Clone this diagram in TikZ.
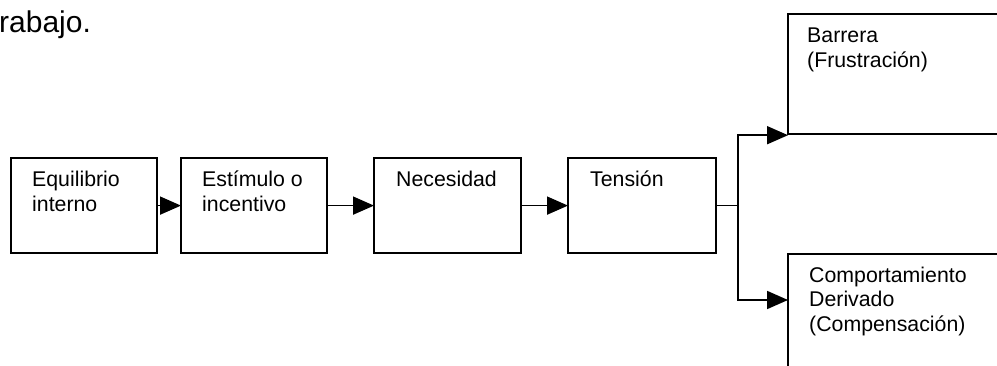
\documentclass[tikz,border=0pt]{standalone}
\usepackage{fontspec}
\setmainfont{Liberation Sans}
\usetikzlibrary{arrows.meta}
\begin{document}
\begin{tikzpicture}[x=1pt,y=-1pt,
  box/.style={draw, line width=2.2pt, rectangle, anchor=north west, inner sep=0pt},
  lbl/.style={anchor=base west, inner sep=0pt, align=left, font=\fontsize{21.3}{24.5}\selectfont},
  conn/.style={line width=1.8pt},
  arr/.style={line width=1.8pt, -{Triangle[length=21pt,width=18pt]}, shorten >=-1pt}]
\clip (0,0) rectangle (997,366);
\fill[white] (0,0) rectangle (997,366);
\node[anchor=base west, inner sep=0pt, font=\fontsize{30}{33}\selectfont] (title) at (-1,33) {rabajo.};
% boxes
\node[box, minimum width=146pt, minimum height=95pt] (b1) at (10,157) {};
\node[box, minimum width=146pt, minimum height=95pt] (b2) at (180,157) {};
\node[box, minimum width=147pt, minimum height=95pt] (b3) at (373,157) {};
\node[box, minimum width=148pt, minimum height=95pt] (b4) at (567,157) {};
\node[box, minimum width=240pt, minimum height=120pt] (b5) at (787,13) {};
\node[box, minimum width=240pt, minimum height=140pt] (b6) at (787,253) {};
% texts (anchored at baseline of last line)
\node[lbl] (t1) at (32,211.5) {Equilibrio\\interno};
\node[lbl] (t2) at (202,211.5) {Estímulo o\\incentivo};
\node[lbl] (t3) at (396,187) {Necesidad};
\node[lbl] (t4) at (590,187) {Tensión};
\node[lbl] (t5) at (807,67.5) {Barrera\\(Frustración)};
\node[lbl] (t6) at (809,331) {Comportamiento\\Derivado\\(Compensación)};
% connectors
\draw[arr] (b1.east) -- (b2.west);
\draw[arr] (b2.east) -- (b3.west);
\draw[arr] (b3.east) -- (b4.west);
\coordinate (jx) at (738,0);
\coordinate (j) at (b4.east -| jx);
\coordinate (c6) at (787,300);
\draw[conn] (b4.east) -- (j);
\draw[arr] (j) |- (b5.south west);
\draw[arr] (j) |- (c6);
\end{tikzpicture}
\end{document}
